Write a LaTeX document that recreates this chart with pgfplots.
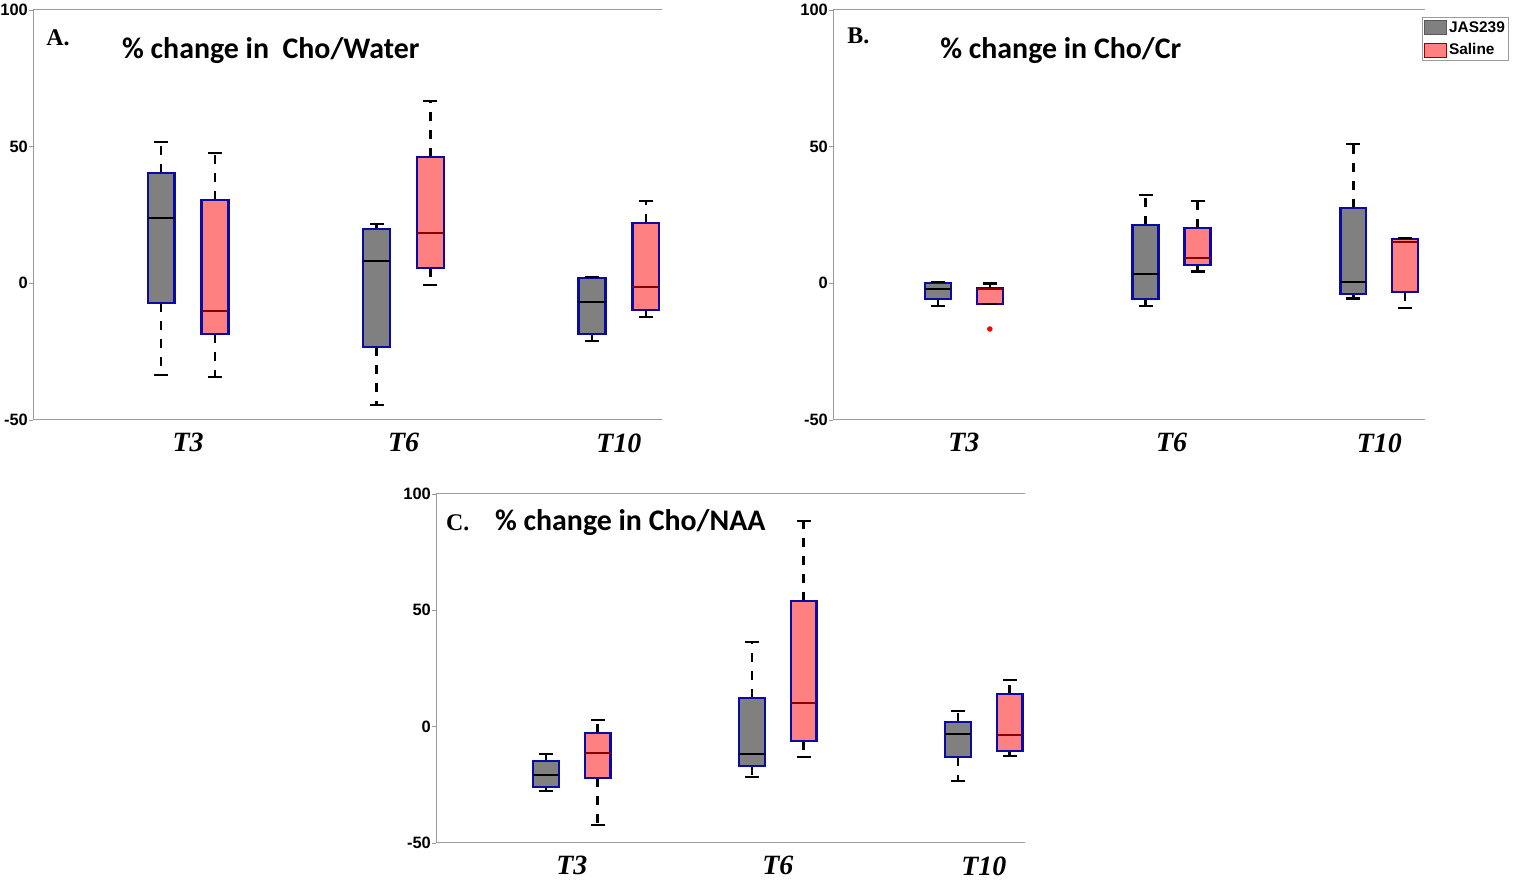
\documentclass[border=0pt]{standalone}
\usepackage{pgfplots}
\pgfplotsset{compat=1.18}
\usepgfplotslibrary{statistics}
\usepackage{fontspec}
\setmainfont{Liberation Serif}
\setsansfont{Liberation Sans}
\newfontfamily\calib{Carlito}

\definecolor{jas}{RGB}{128,128,128}
\definecolor{sal}{RGB}{255,128,128}
\definecolor{edge}{RGB}{10,10,165}
\definecolor{medred}{RGB}{135,0,0}
\definecolor{axgray}{RGB}{155,155,155}

\pgfplotsset{
  panel/.style={
    scale only axis, anchor=south west,
    ymin=-50, ymax=100,
    ytick={-50,0,50,100}, yticklabels={-50,0,50,100},
    xtick={1,2,3}, xticklabels={T3,T6,T10},
    axis x line*=box, axis y line*=left,
    axis line style={axgray, line width=1bp},
    tick align=outside, major tick length=4bp,
    ytick style={axgray, line width=0.8bp},
    xtick style={draw=none},
    yticklabel style={font=\sffamily\bfseries\fontsize{16.5}{16.5}\selectfont, inner sep=1bp},
    xticklabel style={font=\rmfamily\bfseries\itshape\fontsize{28}{28}\selectfont, yshift=-6bp},
    clip=false,
    boxplot/draw direction=y,
    boxplot/box extend=0.125,
    boxplot/whisker extend=0,
    boxplot/every whisker/.style={black, line width=2.4bp, dash pattern=on 9bp off 9bp},
  },
  jasbox/.style={draw=edge,
    boxplot/every box/.style={draw=edge, fill=jas, line width=2.3bp},
    boxplot/every median/.style={black, line width=2.3bp}},
  salbox/.style={draw=edge,
    boxplot/every box/.style={draw=edge, fill=sal, line width=2.3bp},
    boxplot/every median/.style={medred, line width=2.3bp}},
  caps/.style={only marks, mark=-, mark size=7bp, mark options={black, line width=2.4bp}},
}
\tikzset{
  lettr/.style={anchor=west, inner sep=0pt, font=\rmfamily\bfseries\fontsize{24}{24}\selectfont},
  ttl/.style={anchor=west, inner sep=0pt, font=\calib\bfseries\fontsize{30}{30}\selectfont},
}

\begin{document}
\begin{tikzpicture}
\useasboundingbox (0,0) rectangle (1527bp,888bp);

% A. Cho/Water
\begin{axis}[panel, at={(33bp,468bp)}, width=629bp, height=410bp, xmin=0.28, xmax=3.2]
\addplot[jasbox, boxplot prepared={draw position=0.875, lower whisker=-33.5, lower quartile=-7.2, median=23.9, upper quartile=40.4, upper whisker=51.7}] coordinates {};
\addplot[salbox, boxplot prepared={draw position=1.125, lower whisker=-34.3, lower quartile=-18.5, median=-10.1, upper quartile=30.5, upper whisker=47.7}] coordinates {};
\addplot[jasbox, boxplot prepared={draw position=1.875, lower whisker=-44.5, lower quartile=-23.3, median=8.2, upper quartile=19.9, upper whisker=21.7}] coordinates {};
\addplot[salbox, boxplot prepared={draw position=2.125, lower whisker=-0.6, lower quartile=5.6, median=18.4, upper quartile=46.2, upper whisker=66.7}] coordinates {};
\addplot[jasbox, boxplot prepared={draw position=2.875, lower whisker=-21.1, lower quartile=-18.5, median=-6.8, upper quartile=1.9, upper whisker=2.3}] coordinates {};
\addplot[salbox, boxplot prepared={draw position=3.125, lower whisker=-12.3, lower quartile=-9.8, median=-1.4, upper quartile=22.1, upper whisker=30.1}] coordinates {};
\addplot[caps] coordinates {(0.875,-33.5) (0.875,51.7) (1.125,-34.3) (1.125,47.7)
  (1.875,-44.5) (1.875,21.7) (2.125,-0.6) (2.125,66.7) (2.875,-21.1) (2.875,2.3) (3.125,-12.3) (3.125,30.1)};
\node[lettr] at (rel axis cs:0.021,0.932) {A.};
\node[ttl] at (rel axis cs:0.1415,0.902) {\% change in\ \ Cho/Water};
\end{axis}

% B. Cho/Cr
\begin{axis}[panel, at={(833bp,468bp)}, width=592bp, height=410bp, xmin=0.37, xmax=3.22,
  legend style={at={(0.995,0.983)}, anchor=north west, draw=axgray, line width=0.8bp,
    font=\sffamily\bfseries\fontsize{15.5}{15.5}\selectfont, inner sep=2bp, row sep=6bp,
    cells={anchor=west}},
  legend image code/.code={\draw[#1] (0bp,-7bp) rectangle (22bp,7bp);}]
\addlegendimage{draw=gray!70!black, fill=jas, line width=0.6bp}
\addlegendentry{JAS239}
\addlegendimage{draw=red!60!black, fill=sal, line width=0.6bp}
\addlegendentry{Saline}
\addplot[jasbox, boxplot prepared={draw position=0.875, lower whisker=-8.3, lower quartile=-5.8, median=-2.2, upper quartile=0, upper whisker=0.4}] coordinates {};
\addplot[salbox, boxplot prepared={draw position=1.125, lower whisker=-7.6, lower quartile=-7.6, median=-2.1, upper quartile=-1.7, upper whisker=0}] coordinates {};
\addplot[only marks, mark=*, red, mark size=2.5bp] coordinates {(1.125,-16.7)};
\addplot[jasbox, boxplot prepared={draw position=1.875, lower whisker=-8.3, lower quartile=-5.8, median=3.4, upper quartile=21.3, upper whisker=32.3}] coordinates {};
\addplot[salbox, boxplot prepared={draw position=2.125, lower whisker=4.4, lower quartile=6.6, median=9.2, upper quartile=20.2, upper whisker=30.1}] coordinates {};
\addplot[jasbox, boxplot prepared={draw position=2.875, lower whisker=-5.5, lower quartile=-4.0, median=0.4, upper quartile=27.5, upper whisker=51.0}] coordinates {};
\addplot[salbox, boxplot prepared={draw position=3.125, lower whisker=-9.1, lower quartile=-3.2, median=15.0, upper quartile=16.2, upper whisker=16.5}] coordinates {};
\addplot[caps] coordinates {(0.875,-8.3) (0.875,0.4) (1.125,-7.6) (1.125,0)
  (1.875,-8.3) (1.875,32.3) (2.125,4.4) (2.125,30.1) (2.875,-5.5) (2.875,51.0) (3.125,-9.1) (3.125,16.5)};
\node[lettr] at (rel axis cs:0.024,0.937) {B.};
\node[ttl] at (rel axis cs:0.181,0.902) {\% change in Cho/Cr};
\end{axis}

% C. Cho/NAA
\begin{axis}[panel, at={(436bp,45bp)}, width=589bp, height=349bp, xmin=0.34, xmax=3.2]
\addplot[jasbox, boxplot prepared={draw position=0.875, lower whisker=-27.6, lower quartile=-25.9, median=-20.8, upper quartile=-14.7, upper whisker=-11.7}] coordinates {};
\addplot[salbox, boxplot prepared={draw position=1.125, lower whisker=-42.2, lower quartile=-22.0, median=-11.3, upper quartile=-2.7, upper whisker=2.9}] coordinates {};
\addplot[jasbox, boxplot prepared={draw position=1.875, lower whisker=-21.6, lower quartile=-16.9, median=-11.7, upper quartile=12.3, upper whisker=36.4}] coordinates {};
\addplot[salbox, boxplot prepared={draw position=2.125, lower whisker=-13.0, lower quartile=-6.1, median=10.2, upper quartile=54.0, upper whisker=88.4}] coordinates {};
\addplot[jasbox, boxplot prepared={draw position=2.875, lower whisker=-23.3, lower quartile=-13.0, median=-3.1, upper quartile=2.0, upper whisker=6.7}] coordinates {};
\addplot[salbox, boxplot prepared={draw position=3.125, lower whisker=-12.6, lower quartile=-10.4, median=-3.6, upper quartile=14.1, upper whisker=20.1}] coordinates {};
\addplot[caps] coordinates {(0.875,-27.6) (0.875,-11.7) (1.125,-42.2) (1.125,2.9)
  (1.875,-21.6) (1.875,36.4) (2.125,-13.0) (2.125,88.4) (2.875,-23.3) (2.875,6.7) (3.125,-12.6) (3.125,20.1)};
\node[lettr] at (rel axis cs:0.017,0.917) {C.};
\node[ttl] at (rel axis cs:0.100,0.917) {\% change in Cho/NAA};
\end{axis}
\end{tikzpicture}
\end{document}
